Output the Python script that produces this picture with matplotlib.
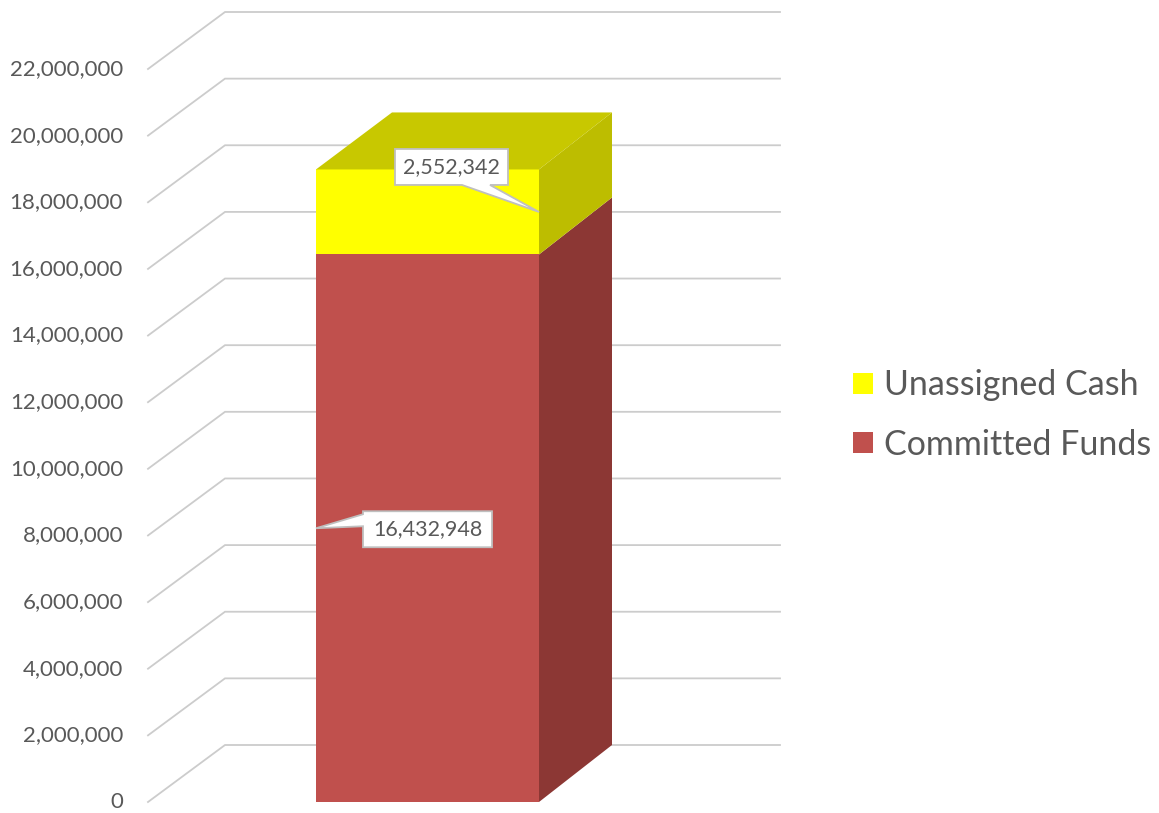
import matplotlib.pyplot as plt
from matplotlib.patches import Polygon, Patch

plt.rcParams['font.family'] = ['Lato', 'DejaVu Sans']

series = ['Committed Funds', 'Unassigned Cash']
values = [16432948, 2552342]
colors = ['#C0504D', '#FFFF00']
side_colors = ['#8C3734', '#BDBD00']
top_colors = ['#A84542', '#C8C800']
ticks = list(range(0, 22000001, 2000000))

# vertical scale: value units per screen pixel
px = 22000000 / 733.0
depth_x = 76
depth_y = 57 * px
grid_c = '#CCCCCC'
text_c = '#595959'

fig = plt.figure(figsize=(11.59, 8.13), dpi=100)
ax = fig.add_axes([0, 0, 1, 1])
ax.set_xlim(0, 1159)
ax.set_ylim(-11 * px, 802 * px)
ax.axis('off')

wall_x0, wall_x1 = 148, 780
bar_x0, bar_x1 = 316, 539

# side wall diagonals and back wall gridlines
for t in ticks:
    ax.plot([wall_x0, wall_x0 + depth_x + 1, wall_x1], [t, t + depth_y, t + depth_y],
            color=grid_c, lw=1.3, zorder=1, solid_joinstyle='miter')
    ax.text(123, t, f'{t:,}', ha='right', va='center', fontsize=16, color=text_c)

# stacked 3D column
bottom = 0
for i, v in enumerate(values):
    top = bottom + v
    ax.add_patch(Polygon([(bar_x0, bottom), (bar_x1, bottom), (bar_x1, top), (bar_x0, top)],
                         closed=True, fc=colors[i], ec='none', zorder=3))
    ax.add_patch(Polygon([(bar_x1, bottom), (bar_x1 + depth_x - 3, bottom + depth_y),
                          (bar_x1 + depth_x - 3, top + depth_y), (bar_x1, top)],
                         closed=True, fc=side_colors[i], ec='none', zorder=3))
    bottom = top

top_i = len(values) - 1
ax.add_patch(Polygon([(bar_x0, bottom), (bar_x0 + depth_x, bottom + depth_y),
                      (bar_x1 + depth_x - 3, bottom + depth_y), (bar_x1, bottom)],
                     closed=True, fc=top_colors[top_i], ec='none', zorder=3))


def callout(tip_x, tip_y, box_x0, box_y0, w, h, base, text):
    # box corners relative to tip; y offsets in pixels (up positive)
    bx0, bx1 = box_x0, box_x0 + w
    by0, by1 = box_y0, box_y0 + h
    a, b = base[1], base[2]
    if base[0] == 'bottom':
        pts = [(bx0, by0), (a, by0), (tip_x, 0), (b, by0), (bx1, by0), (bx1, by1), (bx0, by1)]
    else:
        pts = [(bx0, by0), (bx1, by0), (bx1, by1), (bx0, by1), (bx0, b), (tip_x, 0), (bx0, a)]
    pts = [(x, tip_y + y * px) for x, y in pts]
    ax.add_patch(Polygon(pts, closed=True, fc='white', ec='#BFBFBF', lw=1.3, zorder=5))
    ax.text(bx0 + w / 2, tip_y + (by0 + h / 2) * px, text, ha='center', va='center',
            fontsize=15.5, color=text_c, zorder=6)


# data labels
bottom = 0
for i, v in enumerate(values):
    mid = bottom + v / 2
    if i == 0:
        callout(bar_x0, mid, 363, -19, 129, 36, ('left', 2, 14), f'{v:,}')
    else:
        callout(bar_x1, mid, 395, 27, 113, 36, ('bottom', 462, 490), f'{v:,}')
    bottom += v

handles = [Patch(fc=colors[1], ec='none'), Patch(fc=colors[0], ec='none')]
ax.legend(handles, [series[1], series[0]], loc='center left', bbox_to_anchor=(0.736, 0.4896),
          frameon=False, fontsize=24.5, labelcolor=text_c, handlelength=0.6, handleheight=0.6,
          handletextpad=0.32, labelspacing=0.8, borderpad=0, borderaxespad=0)

fig.savefig('out.png', dpi=100)
